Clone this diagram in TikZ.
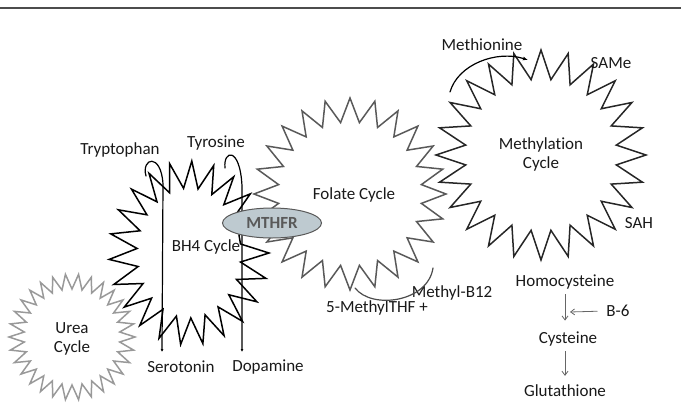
\documentclass[tikz,border=0pt]{standalone}
\usepackage{fontspec}
\setmainfont{Carlito}[Ligatures={NoCommon}]
\usetikzlibrary{arrows.meta,shapes.geometric}
\definecolor{mthfrfill}{RGB}{190,202,208}

\begin{document}
\begin{tikzpicture}[x=1pt,y=-1pt,line cap=round,line join=miter,
  lbl/.style={font=\fontsize{17}{19}\selectfont,text=black!90,inner sep=1pt,align=center},
  burst/.style={line width=1.5pt,line join=miter},
  hook/.style={line width=1.2pt,black,-{Latex[length=3pt,width=3pt]}},
  thinarrow/.style={draw=gray!80!black,line width=0.8pt,-{Straight Barb[length=4pt,width=6pt]}}]
  \useasboundingbox (0,0) rectangle (681,405);

  % Rule along the top
  \draw[gray!60!black, line width=1.2pt] (0,8) -- (681,8);

  % Urea cycle (gray burst, bottom left)
  \begin{scope}[shift={(72,337)}]
    \draw[burst, gray!80] (-6:48) \foreach \a in {0,12,...,348}{ -- (\a:63) -- (\a+6:48) } -- cycle;
  \end{scope}

  % BH4 cycle (oval burst)
  \begin{scope}[shift={(189,253)}]
    \draw[burst, black] (-8:52 and 65) \foreach \a in {0,16,...,344}{ -- (\a:80 and 92) -- (\a+8:52 and 65) } -- cycle;
  \end{scope}

  % Folate cycle
  \begin{scope}[shift={(350,194)}]
    \draw[burst, black!65] (-7.5:72) \foreach \a in {0,15,...,345}{ -- (\a:96) -- (\a+7.5:72) } -- cycle;
  \end{scope}

  % Methylation cycle
  \begin{scope}[shift={(541,155)}]
    \draw[burst, black!85] (-7.5:76) \foreach \a in {0,15,...,345}{ -- (\a:105) -- (\a+7.5:76) } -- cycle;
  \end{scope}

  % Labels
  \node[lbl] (urea) at (72,339) {Urea\\Cycle};
  \node[lbl] (bh4) at (206,247) {BH4 Cycle};
  \node[lbl] (folate) at (354,195) {Folate Cycle};
  \node[lbl] (methyl) at (541,154) {Methylation\\Cycle};
  \node[lbl] (trp) at (120,150) {Tryptophan};
  \node[lbl] (tyr) at (216,143) {Tyrosine};
  \node[lbl] (ser) at (181,367) {Serotonin};
  \node[lbl] (dop) at (268,367) {Dopamine};
  \node[lbl] (mthf) at (377,308) {5-MethylTHF +};
  \node[lbl] (b12) at (452,293) {Methyl-B12};
  \node[lbl] (met) at (482,45) {Methionine};
  \node[lbl] (same) at (611,63) {SAMe};
  \node[lbl] (sah) at (639,223) {SAH};
  \node[lbl] (homo) at (565,282) {Homocysteine};
  \node[lbl] (b6) at (618,311) {B-6};
  \node[lbl] (cys) at (568,339) {Cysteine};
  \node[lbl] (glu) at (565,391) {Glutathione};

  % Hooks down to the amines
  \coordinate (trpstart) at (146,176);
  \coordinate (trpend) at (162,352);
  \draw[hook] (trpstart) .. controls (141,158) and (161,152) .. (163,184) -- (trpend);
  \coordinate (tyrstart) at (225,168);
  \coordinate (tyrend) at (242,352);
  \draw[hook] (tyrstart) .. controls (223,150) and (240,146) .. (242,186) -- (tyrend);

  % Methionine arrow and B12 arc
  \coordinate (metstart) at (450,92);
  \coordinate (metend) at (528,60);
  \draw[line width=1.2pt, black, -{Latex[length=5pt,width=4pt]}] (metstart) .. controls (458,64) and (497,50) .. (metend);
  \coordinate (arcstart) at (355,288);
  \coordinate (arcend) at (433,268);
  \draw[line width=1.2pt, black!70] (arcstart) .. controls (372,310) and (428,302) .. (arcend);

  % Transsulfuration steps
  \draw[thinarrow, shorten <=4pt, shorten >=10pt] (homo) -- (homo |- cys.north);
  \draw[thinarrow, shorten <=4pt, shorten >=8pt] (cys.south -| homo) -- (glu.north);
  \coordinate (b6tip) at (570,312);
  \draw[thinarrow, shorten <=8pt] (b6.west) -- (b6tip);

  % MTHFR enzyme on top
  \node[ellipse, draw=gray!70!black, fill=mthfrfill, line width=1pt, minimum width=99, minimum height=30,
        font=\fontsize{17}{19}\selectfont\bfseries, text=gray!70!black, inner sep=0pt] (mthfr) at (272,223) {MTHFR};
\end{tikzpicture}
\end{document}
